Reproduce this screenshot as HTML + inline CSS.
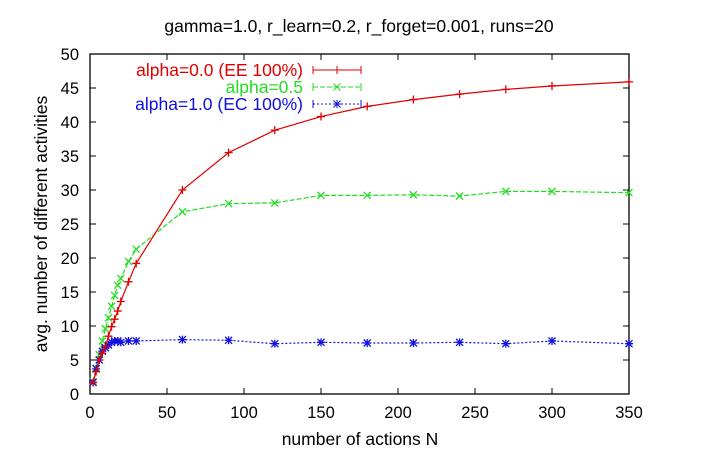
<!DOCTYPE html>
<html><head><meta charset="utf-8"><style>
html,body{margin:0;padding:0;background:#fff;}
svg{display:block;font-family:"Liberation Sans",sans-serif;}
</style></head><body>
<svg id="s" width="702" height="464" viewBox="0 0 702 464" xmlns="http://www.w3.org/2000/svg">
<rect width="702" height="464" fill="#fff"/>
<text x="359" y="32" font-size="17.5" text-anchor="middle">gamma=1.0, r_learn=0.2, r_forget=0.001, runs=20</text>
<text x="360" y="445" font-size="17.5" text-anchor="middle">number of actions N</text>
<text transform="translate(47,224) rotate(-90)" font-size="17.5" text-anchor="middle">avg. number of different activities</text>
<g id="ax"></g>
<rect x="90" y="54" width="539" height="340" fill="none" stroke="#000" stroke-width="1.3"/>
<text x="303" y="76" font-size="17.5" fill="#e00000" text-anchor="end">alpha=0.0 (EE 100%)</text>
<text x="303" y="93" font-size="17.5" fill="#22dd22" text-anchor="end">alpha=0.5</text>
<text x="303" y="110" font-size="17.5" fill="#1010e0" text-anchor="end">alpha=1.0 (EC 100%)</text>
<g id="d"></g>
</svg>
<script>
var X=function(v){return 90+v*539/350},Y=function(v){return 394-v*6.8};
var ax=document.getElementById('ax'),h='';
for(var i=0;i<=350;i+=50){var x=X(i);h+='<line x1="'+x+'" y1="394" x2="'+x+'" y2="388" stroke="#000"/><line x1="'+x+'" y1="54" x2="'+x+'" y2="60" stroke="#000"/><text x="'+x+'" y="418" font-size="16.5" text-anchor="middle">'+i+'</text>';}
for(var j=0;j<=50;j+=5){var y=Y(j);h+='<line x1="90" y1="'+y+'" x2="96" y2="'+y+'" stroke="#000"/><line x1="629" y1="'+y+'" x2="623" y2="'+y+'" stroke="#000"/><text x="79" y="'+(y+6)+'" font-size="16.5" text-anchor="end">'+j+'</text>';}
ax.innerHTML=h;
var xs=[2,4,6,8,10,12,14,16,18,20,25,30,60,90,120,150,180,210,240,270,300,350];
var r=[1.7,3.3,5,6,7,8.5,9.9,11,12.2,13.6,16.5,19.2,30,35.5,38.8,40.8,42.3,43.3,44.1,44.8,45.3,45.9];
var g=[1.8,3.8,5.8,7.8,9.6,11.2,12.9,14.5,16,17,19.5,21.3,26.8,28,28.1,29.2,29.2,29.3,29.1,29.8,29.8,29.6];
var b=[1.7,3.7,5,6.3,6.8,7.2,7.6,7.8,7.8,7.6,7.8,7.8,8.0,7.9,7.4,7.6,7.5,7.5,7.6,7.4,7.8,7.4];
function ser(a,c,dash,mk){var p='',m='';for(var k=0;k<xs.length;k++){var x=X(xs[k]),y=Y(a[k]);p+=(k?'L':'M')+x.toFixed(1)+' '+y.toFixed(1);m+=mk(x,y);}
return '<path d="'+p+'" fill="none" stroke="'+c+'" stroke-width="1.2"'+(dash?' stroke-dasharray="'+dash+'"':'')+'/><g stroke="'+c+'" stroke-width="1.3">'+m+'</g>';}
function plus(x,y){return '<path d="M'+(x-4)+' '+y+'h8M'+x+' '+(y-4)+'v8"/>';}
function cross(x,y){return '<path d="M'+(x-3.5)+' '+(y-3.5)+'l7 7M'+(x-3.5)+' '+(y+3.5)+'l7 -7"/>';}
function star(x,y){return plus(x,y)+cross(x,y);}
var d='';
d+=ser(g,'#22dd22','5,2',cross);
d+=ser(b,'#1010e0','2,2',star);
d+=ser(r,'#e00000','',plus);
d+='<path d="M313 70h48M313 66v8M361 66v8" stroke="#e00000" fill="none"/>'+'<g stroke="#e00000">'+plus(337,70)+'</g>';
d+='<path d="M313 87h48" stroke="#22dd22" stroke-dasharray="5,2"/><path d="M313 83v8M361 83v8" stroke="#22dd22"/><g stroke="#22dd22">'+cross(337,87)+'</g>';
d+='<path d="M313 104h48" stroke="#1010e0" stroke-dasharray="2,2"/><path d="M313 100v8M361 100v8" stroke="#1010e0"/><g stroke="#1010e0">'+star(337,104)+'</g>';
document.getElementById('d').innerHTML=d;
</script>
</body></html>
